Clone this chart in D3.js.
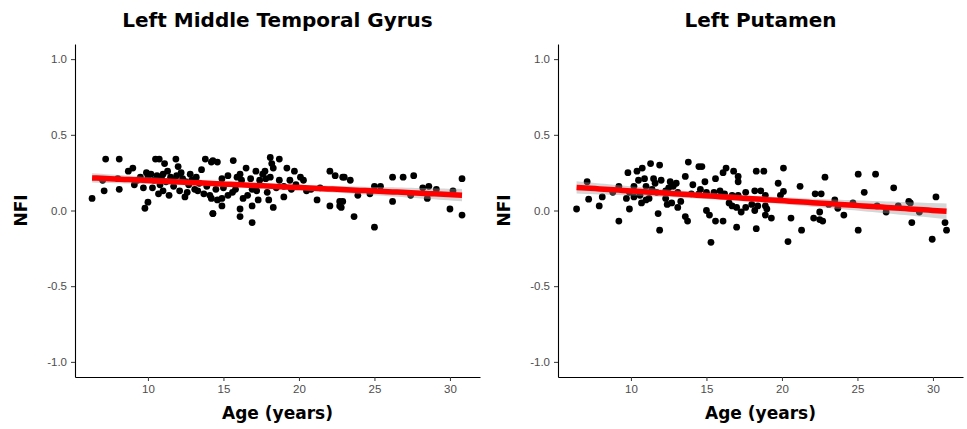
<!DOCTYPE html>
<html>
<head>
<meta charset="utf-8">
<script src="https://cdn.jsdelivr.net/npm/d3@7"></script>
<style>
  body { margin: 0; background: #fff; }
  svg { display: block; font-family: "DejaVu Sans", sans-serif; }
  .tick text { fill: #4d4d4d; font-size: 11.5px; }
  .tick line { stroke: #333; }
  .domain { stroke: #000; stroke-width: 1.1px; }
  .title { font-size: 20px; font-weight: bold; }
  .label { font-size: 17px; font-weight: bold; }
</style>
</head>
<body>
<svg id="chart" width="967" height="429"></svg>
<script>
// panel titles
var titles = ['Left Middle Temporal Gyrus', 'Left Putamen'];
var xTicks = [10, 15, 20, 25, 30];
var yTicks = [-1.0, -0.5, 0.0, 0.5, 1.0];

// Left Middle Temporal Gyrus: [age, NFI]
var mtgAge = [6.3,7.0,7.1,7.2,8.1,8.1,8.0,8.7,9.0,9.1,9.7,9.9,10.0,9.8,10.5,10.75,10.3,10.7,11.1,11.3,11.85,12.0,11.4,12.2,12.8,12.1,12.6,12.45,13.1,13.7,14.1,13.8,14.2,13.55,14.3,
  10.0,10.2,10.4,10.6,10.9,11.0,11.2,11.5,11.6,11.9,12.3,12.5,12.9,13.2,13.4,10.8,11.7,12.7,13.3,11.0,9.5,9.3,13.9,
  14.3,14.6,15.65,18.1,18.7,16.5,17.15,17.75,18.2,18.3,19.2,19.7,20.1,20.3,
  14.9,15.3,15.9,16.2,16.8,17.4,17.8,18.1,18.7,19.4,17.6,16.1,
  14.2,14.6,14.9,15.3,15.6,16.3,16.6,17.3,18.0,18.3,15.8,16.9,17.2,17.9,18.5,19.0,19.5,15.0,14.5,
  14.9,14.3,16.1,16.1,16.9,16.9,20.5,21.2,22.05,22.7,22.9,22.05,22.4,22.9,19.8,20.8,21.4,19.0,
  23.0,23.4,22.7,22.8,23.65,23.9,24.7,25.0,25.4,25.0,26.2,26.9,27.6,26.2,27.4,28.2,28.6,28.5,29.1,30.2,30.0,30.8,30.8];
var mtgNfi = [0.08,0.20,0.13,0.34,0.34,0.14,0.21,0.26,0.28,0.17,0.15,0.25,0.055,0.015,0.34,0.34,0.15,0.11,0.31,0.26,0.34,0.29,0.10,0.25,0.24,0.13,0.12,0.09,0.14,0.11,0.10,0.34,0.32,0.27,-0.02,
  0.22,0.24,0.20,0.23,0.21,0.24,0.19,0.22,0.20,0.23,0.21,0.19,0.20,0.22,0.18,0.17,0.16,0.17,0.13,0.13,0.22,0.20,0.16,
  0.33,0.32,0.33,0.35,0.34,0.28,0.26,0.26,0.31,0.28,0.28,0.26,0.22,0.20,
  0.21,0.23,0.22,0.20,0.21,0.20,0.21,0.22,0.20,0.20,0.24,0.24,
  0.08,0.07,0.08,0.10,0.12,0.08,0.10,0.07,0.07,0.02,0.14,0.14,0.13,0.12,0.15,0.16,0.14,0.15,0.14,
  0.03,-0.02,0.01,-0.04,0.03,-0.08,0.13,0.07,0.03,0.03,0.06,0.26,0.23,0.22,0.17,0.14,0.15,0.09,
  0.22,0.20,0.06,0.02,-0.04,0.10,0.11,0.16,0.16,-0.11,0.22,0.22,0.23,0.06,0.10,0.15,0.16,0.08,0.14,0.13,0.01,-0.03,0.21];

// Left Putamen: [age, NFI]
var putAge = [6.4,7.1,7.2,7.9,8.1,8.8,9.2,9.2,9.7,9.9,9.8,10.4,10.5,10.75,11.3,11.9,10.9,11.5,11.6,11.0,
  9.9,10.2,10.6,11.0,10.7,11.2,11.7,11.8,11.9,
  12.3,12.5,12.8,13.1,12.3,13.1,12.4,12.7,13.3,
  13.6,13.8,14.5,14.1,13.6,13.75,14.0,14.5,
  14.7,15.3,15.0,15.2,15.6,16.1,14.9,15.6,16.1,16.3,16.8,17.1,17.1,
  14.6,15.0,15.5,15.9,16.2,16.7,17.1,17.6,18.2,18.6,18.9,
  16.5,16.7,17.0,17.3,17.6,18.0,18.2,18.4,18.9,19.0,
  17.0,18.3,18.3,18.8,18.9,19.3,20.1,19.75,20.1,19.9,20.6,20.4,21.2,21.3,22.1,22.5,22.7,22.5,22.2,22.6,22.85,
  25.05,26.2,25.45,25.05,23.5,23.7,24.1,23.1,24.7,26.3,26.9,27.4,27.7,28.4,28.5,28.6,29.1,30.2,29.95,30.8,30.9,
  12.0,12.6,13.0,10.2,11.4];
var putNfi = [0.01,0.19,0.075,0.03,0.09,0.12,0.16,-0.07,0.08,0.01,0.25,0.26,0.20,0.28,0.31,0.30,0.21,0.21,0.18,0.16,
  0.12,0.09,0.10,0.07,0.05,0.08,0.12,-0.02,-0.13,
  0.13,0.15,0.16,0.12,0.08,0.02,0.04,0.05,0.06,
  0.225,0.32,0.29,0.17,-0.04,-0.07,0.11,0.11,
  0.29,-0.21,0.00,-0.03,-0.07,-0.07,0.19,0.21,0.25,0.28,0.26,0.225,0.19,
  0.14,0.12,0.12,0.13,0.11,0.10,0.10,0.12,0.13,0.13,0.10,
  0.05,0.03,0.02,-0.01,0.02,0.04,0.00,0.03,0.03,0.01,
  -0.11,-0.12,0.26,0.26,-0.03,-0.05,0.28,0.18,0.126,0.10,-0.05,-0.205,0.16,-0.13,-0.05,-0.06,-0.07,-0.01,0.11,0.11,0.22,
  0.24,0.24,0.12,-0.13,0.07,0.015,-0.03,0.04,0.05,0.03,-0.01,0.15,0.03,0.06,0.05,-0.08,-0.01,0.09,-0.19,-0.08,-0.13,
  0.20,0.19,0.18,0.16,0.14];

var panels = [
  { title: titles[0], age: mtgAge, nfi: mtgNfi, left: 75 },
  { title: titles[1], age: putAge, nfi: putNfi, left: 558 }
];

const svg = d3.select('#chart');
const plotW = 405, plotTop = 44, plotBottom = 377;

// least squares fit with 95% band, like geom_smooth(method = 'lm')
function linFit(xs, ys) {
  var n = xs.length, mx = d3.mean(xs), my = d3.mean(ys);
  var sxx = 0, sxy = 0;
  for (var i = 0; i < n; i++) {
    sxx += (xs[i] - mx) * (xs[i] - mx);
    sxy += (xs[i] - mx) * (ys[i] - my);
  }
  var b = sxy / sxx, a = my - b * mx, sse = 0;
  for (var i = 0; i < n; i++) {
    var r = ys[i] - (a + b * xs[i]);
    sse += r * r;
  }
  var s = Math.sqrt(sse / (n - 2));
  var lo = d3.min(xs), hi = d3.max(xs);
  return d3.range(0, 81).map(function (k) {
    var x = lo + (hi - lo) * k / 80;
    var se = s * Math.sqrt(1 / n + (x - mx) * (x - mx) / sxx);
    var y = a + b * x;
    return { x: x, y: y, lo: y - 1.976 * se, hi: y + 1.976 * se };
  });
}

// plain hyphen for negatives, as in the original
var fmtY = function (d) { return d3.format('.1f')(d).replace('\u2212', '-'); };

panels.forEach(function (p) {
  const xScale = d3.scaleLinear().domain([5.17, 31.99]).range([p.left, p.left + plotW]);
  const yScale = d3.scaleLinear().domain([-1.1, 1.1]).range([plotBottom, plotTop]);
  const cx = p.left + plotW / 2;

  const g = svg.append('g');

  g.append('g')
    .attr('transform', 'translate(0,' + plotBottom + ')')
    .call(d3.axisBottom(xScale).tickValues(xTicks).tickSizeInner(4).tickSizeOuter(0).tickPadding(4).tickFormat(d3.format('d')));

  g.append('g')
    .attr('transform', 'translate(' + p.left + ',0)')
    .call(d3.axisLeft(yScale).tickValues(yTicks).tickSizeInner(4).tickSizeOuter(0).tickPadding(4).tickFormat(fmtY));

  const pts = p.age.map(function (a, i) { return { age: a, nfi: p.nfi[i] }; });
  g.selectAll('circle')
    .data(pts)
    .enter().append('circle')
    .attr('cx', function (d) { return xScale(d.age); })
    .attr('cy', function (d) { return yScale(d.nfi); })
    .attr('r', 3.4)
    .attr('fill', '#000');

  const fit = linFit(p.age, p.nfi);
  g.append('path')
    .datum(fit)
    .attr('fill', '#999')
    .attr('fill-opacity', 0.4)
    .attr('d', d3.area()
      .x(function (d) { return xScale(d.x); })
      .y0(function (d) { return yScale(d.lo); })
      .y1(function (d) { return yScale(d.hi); }));

  g.append('path')
    .datum(fit)
    .attr('fill', 'none')
    .attr('stroke', '#ff0000')
    .attr('stroke-width', 5.5)
    .attr('d', d3.line()
      .x(function (d) { return xScale(d.x); })
      .y(function (d) { return yScale(d.y); }));

  g.append('text')
    .attr('class', 'title')
    .attr('x', cx)
    .attr('y', 27)
    .attr('text-anchor', 'middle')
    .text(p.title);

  g.append('text')
    .attr('class', 'label')
    .attr('x', cx)
    .attr('y', 419)
    .attr('text-anchor', 'middle')
    .text('Age (years)');

  g.append('text')
    .attr('class', 'label')
    .attr('transform', 'translate(' + (p.left - 48) + ',' + ((plotTop + plotBottom) / 2) + ') rotate(-90)')
    .attr('text-anchor', 'middle')
    .text('NFI');
});
</script>
</body>
</html>
